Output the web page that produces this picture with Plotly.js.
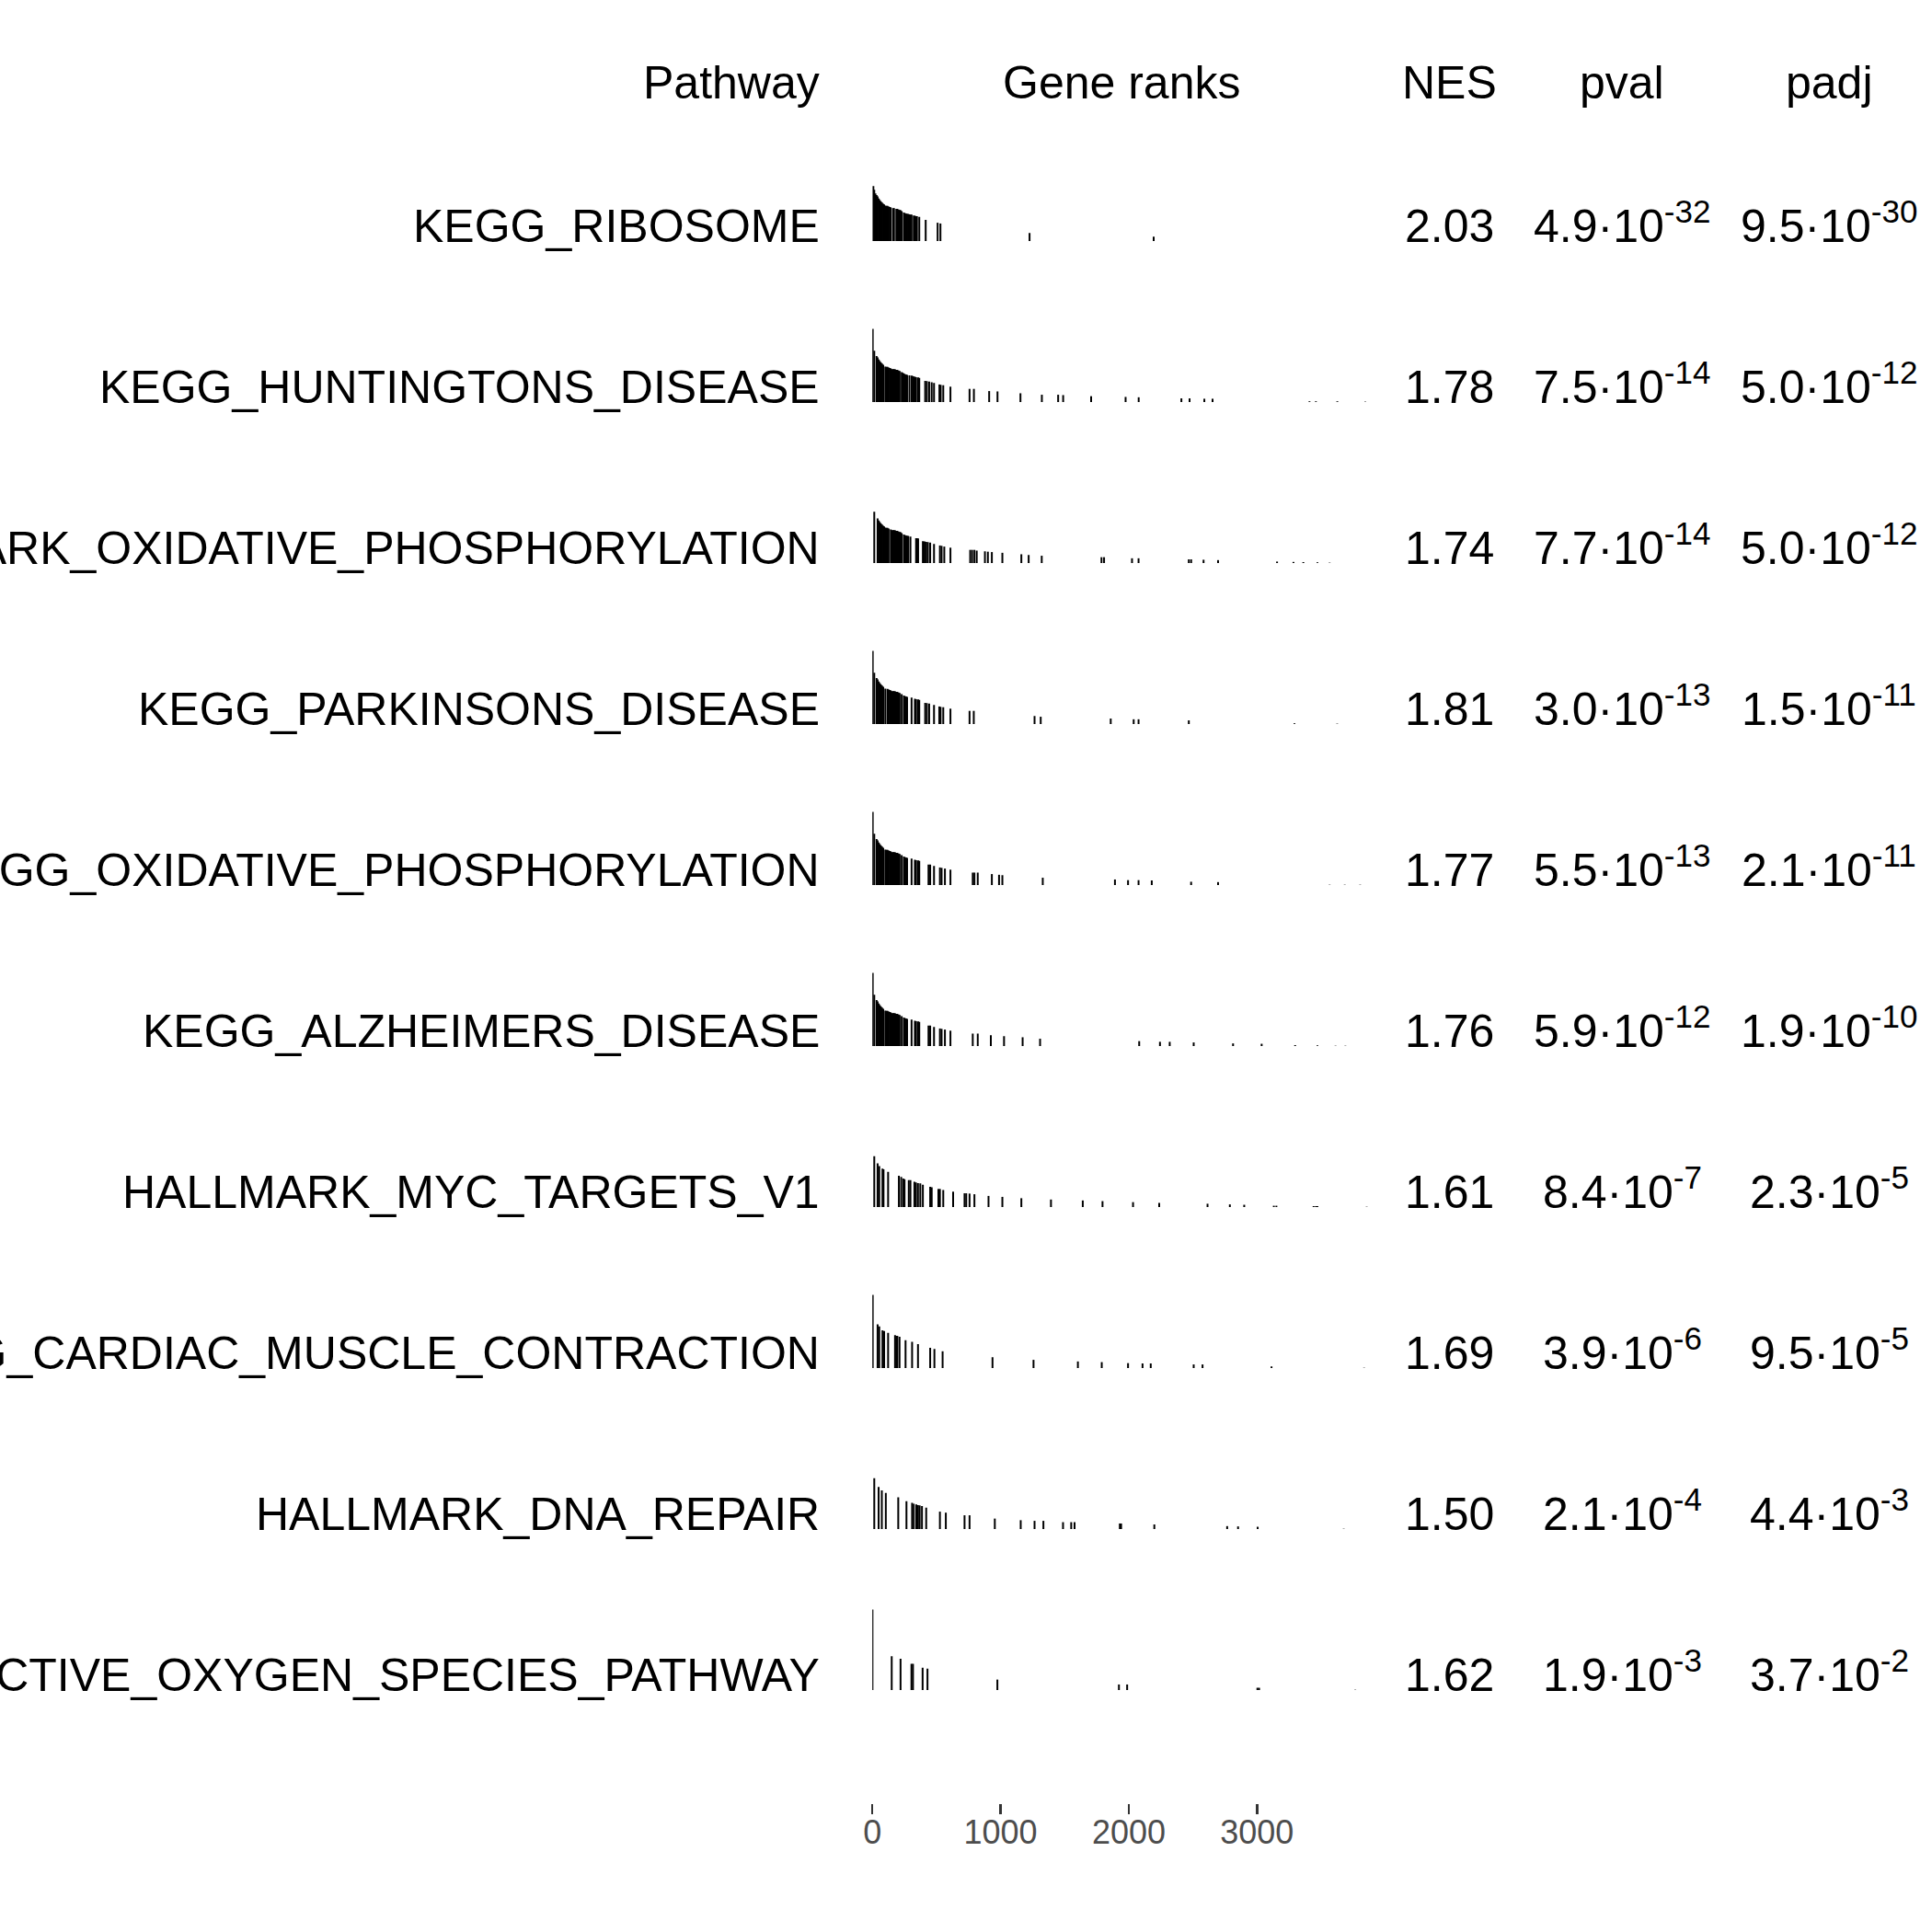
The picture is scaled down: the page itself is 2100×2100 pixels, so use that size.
<!DOCTYPE html>
<html>
<head>
<meta charset="utf-8">
<script src="https://cdn.plot.ly/plotly-3.0.1.min.js"></script>
<style>html,body{margin:0;padding:0;background:#fff;}</style>
</head>
<body>
<div id="chart" style="width:2100px;height:2100px;"></div>
<script>
// ---------------- data ----------------
const pathways = [
  "KEGG_RIBOSOME",
  "KEGG_HUNTINGTONS_DISEASE",
  "HALLMARK_OXIDATIVE_PHOSPHORYLATION",
  "KEGG_PARKINSONS_DISEASE",
  "KEGG_OXIDATIVE_PHOSPHORYLATION",
  "KEGG_ALZHEIMERS_DISEASE",
  "HALLMARK_MYC_TARGETS_V1",
  "KEGG_CARDIAC_MUSCLE_CONTRACTION",
  "HALLMARK_DNA_REPAIR",
  "HALLMARK_REACTIVE_OXYGEN_SPECIES_PATHWAY"
];
const nes  = [2.03, 1.78, 1.74, 1.81, 1.77, 1.76, 1.61, 1.69, 1.50, 1.62];
const pval = [4.9e-32, 7.5e-14, 7.7e-14, 3.0e-13, 5.5e-13, 5.9e-12, 8.4e-7, 3.9e-6, 2.1e-4, 1.9e-3];
const padj = [9.5e-30, 5.0e-12, 5.0e-12, 1.5e-11, 2.1e-11, 1.9e-10, 2.3e-5, 9.5e-5, 4.4e-3, 3.7e-2];
const headers = ["Pathway", "Gene ranks", "NES", "pval", "padj"];
const nGenes = 3880;
const rankTicks = [0, 1000, 2000, 3000];

// gene positions (rank) of each pathway's genes and the ranking statistic at that rank
const ribosomeRanks = [8,15,24,33,41,50,59,67,76,85,92,101,110,118,127,136,144,162,169,187,195,204,213,220,229,246,255,264,271,280,289,297,306,323,332,341,348,366,416,509,531,1226,2194];
const ribosomeStats = [0.75,0.70,0.65,0.63,0.61,0.58,0.56,0.54,0.525,0.51,0.50,0.485,0.48,0.48,0.47,0.465,0.46,0.45,0.45,0.44,0.44,0.43,0.425,0.42,0.41,0.39,0.38,0.375,0.37,0.37,0.365,0.36,0.36,0.35,0.345,0.34,0.34,0.33,0.29,0.25,0.24,0.11,0.06];

const huntingtonRanks = [3,15,33,41,50,59,67,76,85,101,110,118,127,136,144,153,162,169,178,187,195,204,213,229,238,246,255,264,271,289,306,315,323,332,341,357,366,412,425,443,463,481,523,533,553,609,758,792,911,976,1155,1322,1449,1488,1706,1975,2077,2410,2474,2589,2653,3409,3459,3626,3844];
const huntingtonStats = [1.00,0.70,0.63,0.61,0.58,0.56,0.54,0.525,0.51,0.485,0.48,0.48,0.47,0.465,0.46,0.45,0.45,0.45,0.445,0.44,0.44,0.43,0.425,0.41,0.40,0.39,0.38,0.375,0.37,0.365,0.36,0.355,0.35,0.345,0.34,0.335,0.33,0.29,0.285,0.28,0.27,0.26,0.24,0.235,0.23,0.21,0.18,0.18,0.15,0.145,0.12,0.10,0.10,0.095,0.08,0.07,0.065,0.05,0.05,0.045,0.045,0.01,0.01,0.01,0.005];

const hallmarkOxphosRanks = [15,41,50,59,67,76,85,92,101,110,118,127,144,153,162,169,178,187,195,204,213,220,229,246,255,264,271,280,297,341,348,357,394,407,420,433,451,481,527,540,561,609,763,778,796,814,878,901,932,1014,1162,1219,1321,1787,1807,2025,2076,2468,2486,2583,2696,3156,3284,3361,3471,3566];
const hallmarkOxphosStats = [0.70,0.61,0.58,0.56,0.54,0.525,0.51,0.50,0.485,0.48,0.48,0.47,0.46,0.45,0.45,0.45,0.445,0.44,0.44,0.43,0.425,0.42,0.41,0.39,0.38,0.375,0.37,0.37,0.36,0.34,0.34,0.335,0.30,0.295,0.29,0.285,0.28,0.26,0.24,0.235,0.225,0.21,0.18,0.18,0.18,0.17,0.16,0.155,0.15,0.14,0.12,0.11,0.10,0.08,0.08,0.065,0.065,0.05,0.05,0.045,0.04,0.02,0.015,0.013,0.01,0.005];

const parkinsonRanks = [3,15,33,41,50,59,67,76,85,101,118,127,136,144,153,162,169,178,187,195,204,213,229,246,255,264,271,306,332,341,357,366,412,425,443,481,522,532,553,609,758,791,1265,1313,1859,2038,2076,2468,3292,3625];
const parkinsonStats = [1.00,0.70,0.63,0.61,0.58,0.56,0.54,0.525,0.51,0.485,0.48,0.47,0.465,0.46,0.45,0.45,0.45,0.445,0.44,0.44,0.43,0.425,0.41,0.39,0.38,0.375,0.37,0.36,0.345,0.34,0.335,0.33,0.29,0.285,0.28,0.26,0.24,0.235,0.23,0.21,0.18,0.18,0.11,0.10,0.075,0.065,0.065,0.05,0.01,0.005];

const keggOxphosRanks = [3,15,33,41,50,59,67,76,85,101,110,118,127,136,144,153,162,169,178,187,195,204,213,229,246,255,264,271,306,332,341,357,366,438,451,481,527,540,566,609,783,796,822,932,988,1014,1329,1892,1994,2076,2179,2486,2696,3566,3684,3804];
const keggOxphosStats = [1.00,0.70,0.63,0.61,0.58,0.56,0.54,0.525,0.51,0.485,0.48,0.48,0.47,0.465,0.46,0.45,0.45,0.45,0.445,0.44,0.44,0.43,0.425,0.41,0.39,0.38,0.375,0.37,0.36,0.345,0.34,0.335,0.33,0.28,0.28,0.26,0.24,0.235,0.225,0.21,0.17,0.17,0.17,0.15,0.14,0.135,0.10,0.076,0.067,0.067,0.063,0.045,0.04,0.004,0.004,0.004];

const alzheimerRanks = [3,15,33,41,50,59,67,76,85,101,110,118,127,136,144,153,162,169,178,187,195,204,213,229,246,255,264,271,306,332,341,357,366,438,451,481,527,540,566,609,783,822,924,1027,1172,1308,2081,2243,2319,2506,2813,3036,3297,3471,3612,3689];
const alzheimerStats = [1.00,0.70,0.63,0.61,0.58,0.56,0.54,0.525,0.51,0.485,0.48,0.48,0.47,0.465,0.46,0.45,0.45,0.45,0.445,0.44,0.44,0.43,0.425,0.41,0.39,0.38,0.375,0.37,0.36,0.345,0.34,0.335,0.33,0.28,0.28,0.26,0.24,0.235,0.225,0.21,0.17,0.17,0.148,0.135,0.12,0.10,0.067,0.058,0.058,0.049,0.036,0.031,0.013,0.009,0.004,0.004];

const mycRanks = [15,41,54,79,87,123,207,225,241,251,284,297,328,340,356,374,394,451,463,515,527,553,630,719,732,758,796,906,1014,1162,1393,1641,1795,2033,2237,2614,2788,2900,3131,3151,3441,3459,3471,3855];
const mycStats = [0.695,0.596,0.56,0.525,0.516,0.48,0.426,0.413,0.39,0.38,0.368,0.368,0.345,0.336,0.327,0.323,0.305,0.278,0.269,0.247,0.247,0.233,0.21,0.188,0.188,0.184,0.175,0.152,0.139,0.121,0.103,0.09,0.081,0.067,0.058,0.045,0.036,0.031,0.018,0.018,0.013,0.013,0.013,0.004];

const cardiacRanks = [3,41,54,79,92,123,177,187,195,212,259,310,356,451,484,548,937,1257,1603,1789,1994,2107,2171,2506,2575,3113,3835];
const cardiacStats = [1.0,0.596,0.57,0.516,0.507,0.48,0.448,0.44,0.439,0.426,0.38,0.359,0.327,0.278,0.26,0.229,0.148,0.112,0.09,0.081,0.067,0.063,0.063,0.049,0.049,0.022,0.004];

const dnaRepairRanks = [15,49,74,105,202,266,310,323,343,356,369,387,420,527,573,719,758,955,1157,1265,1334,1487,1551,1577,1930,1940,2199,2767,2852,3005,3676];
const dnaRepairStats = [0.695,0.574,0.529,0.493,0.435,0.381,0.359,0.345,0.336,0.327,0.323,0.314,0.291,0.238,0.224,0.188,0.188,0.143,0.121,0.112,0.112,0.094,0.094,0.094,0.076,0.076,0.063,0.04,0.036,0.031,0.004];

const rosRanks = [1,151,220,305,317,392,430,975,1923,1987,3003,3016,3766];
const rosStats = [1.10,0.462,0.426,0.359,0.359,0.305,0.291,0.143,0.076,0.076,0.031,0.031,0.004];

// ---------------- build figure ----------------
const geneSets = [
  [ribosomeRanks, ribosomeStats],
  [huntingtonRanks, huntingtonStats],
  [hallmarkOxphosRanks, hallmarkOxphosStats],
  [parkinsonRanks, parkinsonStats],
  [keggOxphosRanks, keggOxphosStats],
  [alzheimerRanks, alzheimerStats],
  [mycRanks, mycStats],
  [cardiacRanks, cardiacStats],
  [dnaRepairRanks, dnaRepairStats],
  [rosRanks, rosStats]
];

const W = 2100, H = 2100;
const FONT = "Liberation Sans, Arial, Helvetica, sans-serif";
const rowStep = 175;          // px between rows
const firstBase = 262;        // px, baseline of first row's bars
const axisPx = 1960;          // px, position of rank axis
const halfCell = 0.5;         // bars use half the row height at max statistic

const maxStat = Math.max(...geneSets.map(g => Math.max(...g[1].map(Math.abs))));

const traces = geneSets.map((g, i) => {
  const xs = [], ys = [];
  g[0].forEach((r, k) => {
    const adj = g[1][k] / maxStat;
    xs.push(r, r, null);
    ys.push(i, i - adj * halfCell, null);
  });
  return {
    type: "scatter", mode: "lines", x: xs, y: ys,
    line: {color: "#000000", width: 2}, hoverinfo: "skip", showlegend: false,
    connectgaps: false
  };
});

function fmtP(v) {
  const parts = v.toExponential(1).split("e");
  return parts[0] + "·10<sup>" + parseInt(parts[1], 10) + "</sup>";
}
const py = p => 1 - p / H;
const px = p => p / W;

const annotations = [];
const textBottom0 = 275;  // px bottom (baseline+descent) of first row text
const headerBottom = 119;
const colX = {path: 892, genes: 1219, nes: 1575, pval: 1763, padj: 1988};

function addText(text, x, yb, anchor) {
  annotations.push({
    text: text, x: px(x), y: py(yb), xref: "paper", yref: "paper",
    xanchor: anchor, yanchor: "bottom", showarrow: false, borderpad: 0,
    font: {family: FONT, size: 50, color: "#000000"}
  });
}
addText(headers[0], colX.path, headerBottom, "right");
addText(headers[1], colX.genes, headerBottom, "center");
addText(headers[2], colX.nes, headerBottom, "center");
addText(headers[3], colX.pval, headerBottom, "center");
addText(headers[4], colX.padj, headerBottom, "center");

pathways.forEach((name, i) => {
  const yb = textBottom0 + i * rowStep;
  addText(name, colX.path, yb, "right");
  addText(nes[i].toFixed(2), colX.nes, yb, "center");
  addText(fmtP(pval[i]), colX.pval, yb, "center");
  addText(fmtP(padj[i]), colX.padj, yb, "center");
});

const x0 = 948.2, x1 = 1489;
const layout = {
  width: W, height: H,
  margin: {l: 0, r: 0, t: 0, b: 0, pad: 0},
  paper_bgcolor: "#ffffff", plot_bgcolor: "rgba(0,0,0,0)",
  showlegend: false,
  xaxis: {
    domain: [px(x0), px(x1)], range: [0, nGenes],
    tickmode: "array", tickvals: rankTicks, ticktext: rankTicks.map(String),
    ticks: "outside", ticklen: 11, tickwidth: 2.5, tickcolor: "#333333",
    ticklabelstandoff: -11,
    tickfont: {family: FONT, size: 36, color: "#4D4D4D"},
    showline: false, showgrid: false, zeroline: false, automargin: false,
    fixedrange: true
  },
  yaxis: {
    domain: [1 - axisPx / H, 1],
    range: [(axisPx - firstBase) / rowStep, -firstBase / rowStep],
    showticklabels: false, ticks: "", showline: false, showgrid: false,
    zeroline: false, automargin: false, fixedrange: true
  },
  annotations: annotations
};

Plotly.newPlot("chart", traces, layout, {staticPlot: true, displayModeBar: false});
</script>
</body>
</html>
